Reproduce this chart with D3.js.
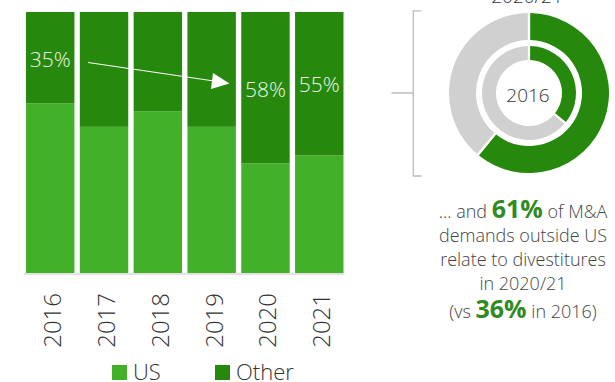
<!DOCTYPE html>
<html>
<head>
<meta charset="utf-8">
<script src="https://cdn.jsdelivr.net/npm/d3@7"></script>
<style>
  html, body { margin: 0; padding: 0; background: #fff; }
  svg { display: block; font-family: "Open Sans", sans-serif; }
</style>
</head>
<body>
<svg id="chart" width="615" height="382"></svg>
<script>
// ---- data ----
const years = ["2016", "2017", "2018", "2019", "2020", "2021"];
const usShare = [65, 56, 62, 56, 42, 45];
const otherShare = [35, 44, 38, 44, 58, 55];
const labelledYears = ["2016", "2020", "2021"];
const seriesNames = ["US", "Other"];
const donutOuter = [61, 39];   // 2020/21: divestitures vs rest
const donutInner = [36, 64];   // 2016
const donutTitle = "2020/21";
const donutCenter = "2016";

const colors = { US: "#43B02A", Other: "#26890D", gray: "#D0D0D0" };

const svg = d3.select("#chart");

// ---- stacked bars ----
const x = d3.scaleBand().domain(years).range([26, 343.5]).paddingInner(0.1).paddingOuter(0);
const y = d3.scaleLinear().domain([0, 100]).range([273, 12]);

const rows = years.map((yr, i) => ({ year: yr, US: usShare[i], Other: otherShare[i] }));
const stack = d3.stack().keys(seriesNames)(rows);

svg.append("g").selectAll("g").data(stack).join("g")
  .attr("fill", d => colors[d.key])
  .selectAll("rect").data(d => d).join("rect")
  .attr("x", d => x(d.data.year))
  .attr("width", x.bandwidth())
  .attr("y", d => y(d[1]))
  .attr("height", d => y(d[0]) - y(d[1]));

// baseline
svg.append("line")
  .attr("x1", 24).attr("x2", 344).attr("y1", 274).attr("y2", 274)
  .attr("stroke", "#d9d9d9").attr("stroke-width", 1.5);

// year labels (rotated)
svg.append("g").selectAll("text").data(years).join("text")
  .attr("transform", d => `translate(${x(d) + x.bandwidth() / 2 + 11},293) rotate(-90)`)
  .attr("text-anchor", "end")
  .attr("font-size", 24).attr("font-weight", 300).attr("fill", "#333")
  .text(d => d);

// value labels inside Other segments
const labelOffsets = { "2016": 67, "2020": 97, "2021": 92 };
svg.append("g").selectAll("text").data(labelledYears).join("text")
  .attr("x", d => x(d) + x.bandwidth() / 2)
  .attr("y", d => labelOffsets[d])
  .attr("text-anchor", "middle")
  .attr("font-size", 21).attr("font-weight", 300).attr("fill", "#eef6ea")
  .text(d => otherShare[years.indexOf(d)] + "%");

// arrow
svg.append("line")
  .attr("x1", 88).attr("y1", 62.5).attr("x2", 214).attr("y2", 81)
  .attr("stroke", "#ffffff").attr("stroke-width", 1);
svg.append("path")
  .attr("d", "M229.5,83.5 L213,73 L211,89 Z")
  .attr("fill", "#ffffff");

// legend
const leg = svg.append("g");
const legX = [112, 215];
seriesNames.forEach((s, i) => {
  leg.append("rect").attr("x", legX[i]).attr("y", 365).attr("width", 15).attr("height", 15).attr("fill", colors[s]);
  leg.append("text").attr("x", legX[i] + 21).attr("y", 380)
    .attr("font-size", 22).attr("font-weight", 300).attr("fill", "#333").text(s);
});

// ---- donut ----
const cx = 529, cy = 93;
const pie = d3.pie().sort(null);
const gD = svg.append("g").attr("transform", `translate(${cx},${cy})`);
const arcOuter = d3.arc().innerRadius(53).outerRadius(80).padAngle(0.025);
const arcInner = d3.arc().innerRadius(33).outerRadius(47).padAngle(0.04);
gD.selectAll("path.o").data(pie(donutOuter)).join("path").attr("class", "o")
  .attr("d", arcOuter).attr("fill", (d, i) => i === 0 ? colors.Other : colors.gray);
gD.selectAll("path.i").data(pie(donutInner)).join("path").attr("class", "i")
  .attr("d", arcInner).attr("fill", (d, i) => i === 0 ? colors.Other : colors.gray);
gD.append("text").attr("x", -1).attr("y", 8.5).attr("text-anchor", "middle")
  .attr("font-size", 19).attr("font-weight", 300).attr("fill", "#333").text(donutCenter);
svg.append("text").attr("x", 527).attr("y", 3).attr("text-anchor", "middle")
  .attr("font-size", 19).attr("font-weight", 300).attr("fill", "#333").text(donutTitle);

// bracket
svg.append("path")
  .attr("d", "M421.5,10.8 L413.3,10.8 L413.3,176 L421.5,176 M391.5,93 L413.3,93")
  .attr("fill", "none").attr("stroke", "#bdbdbd").attr("stroke-width", 1.3);

// ---- annotation text ----
const tg = svg.append("g").attr("font-size", 18).attr("font-weight", 300).attr("fill", "#444").attr("text-anchor", "middle");
const big = { "font-size": 25, "font-weight": 700, fill: "#2f8b1d" };
function line(yy, parts) {
  const t = tg.append("text").attr("x", 523).attr("y", yy);
  parts.forEach(p => {
    const ts = t.append("tspan").text(p.t);
    if (p.big) Object.entries(big).forEach(([k, v]) => ts.attr(k, v));
  });
}
line(218, [{ t: "... and " }, { t: "61%", big: true }, { t: " of M&A" }]);
line(242, [{ t: "demands outside US" }]);
line(266, [{ t: "relate to divestitures" }]);
line(290, [{ t: "in 2020/21" }]);
line(318, [{ t: "(vs " }, { t: "36%", big: true }, { t: " in 2016)" }]);
</script>
</body>
</html>
